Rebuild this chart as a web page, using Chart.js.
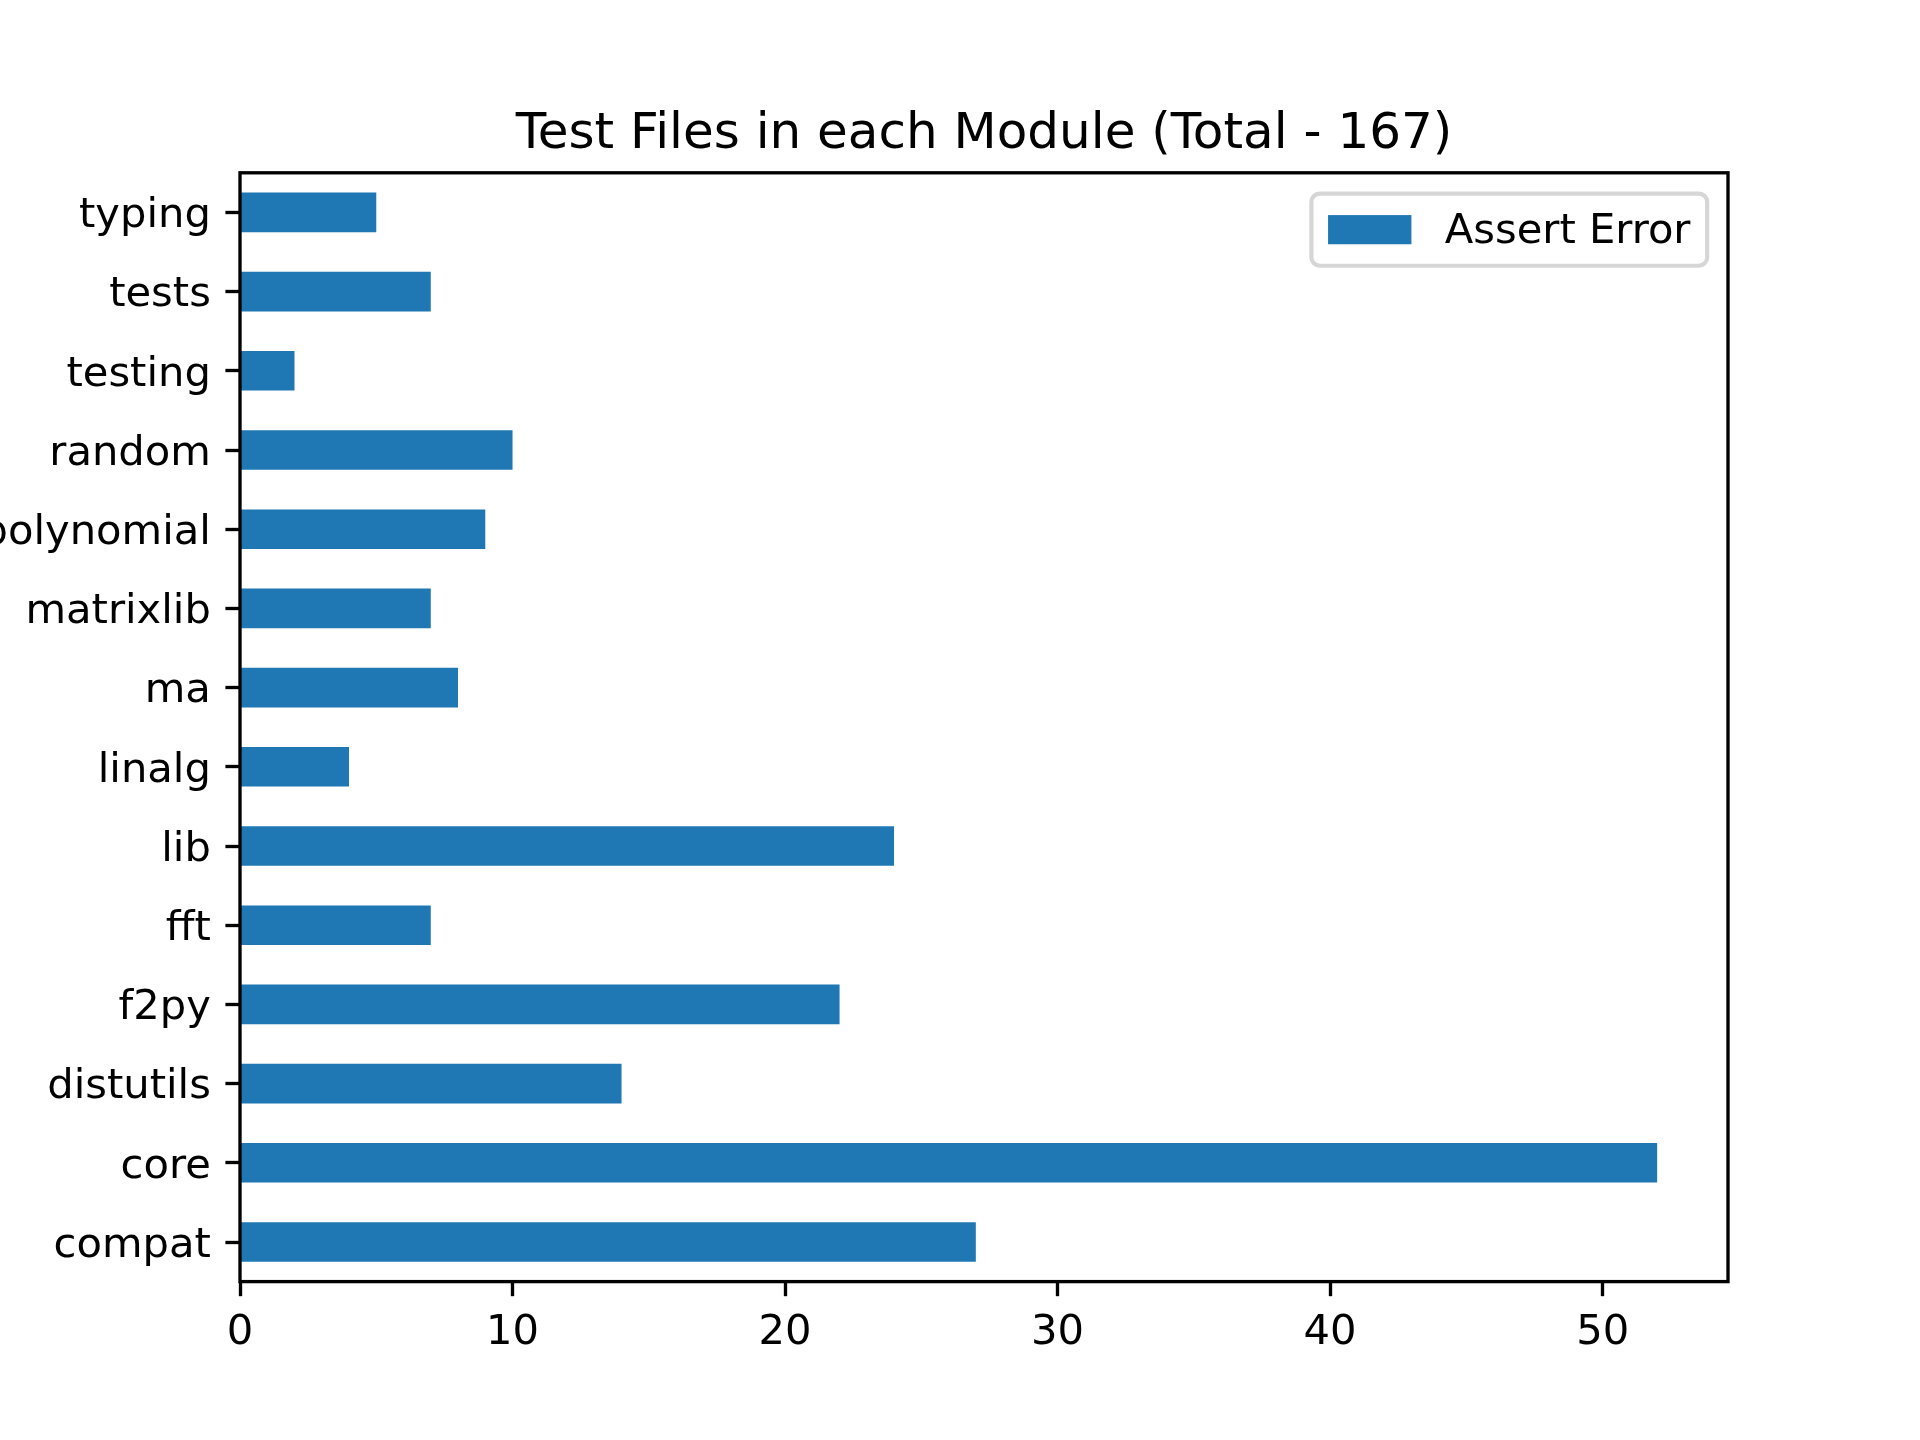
<!DOCTYPE html>
<html>
<head>
<meta charset="utf-8">
<style>
  html, body { margin: 0; padding: 0; background: #ffffff; }
  #wrap { width: 1920px; height: 1440px; }
</style>
<script src="https://cdn.jsdelivr.net/npm/chart.js@4/dist/chart.umd.min.js"></script>
</head>
<body>
<div id="wrap"><canvas id="c" width="1920" height="1440"></canvas></div>
<script>
const categories = ["typing", "tests", "testing", "random", "polynomial", "matrixlib", "ma", "linalg", "lib", "fft", "f2py", "distutils", "core", "compat"];
const assertErrorValues = [5, 7, 2, 10, 9, 7, 8, 4, 24, 7, 22, 14, 52, 27];
const xTicks = [0, 10, 20, 30, 40, 50];
const seriesLabel = "Assert Error";
const titleText = "Test Files in each Module (Total - 167)";

const PT = 300 / 72;
const FONT = "'DejaVu Sans', sans-serif";
const barColor = "#1f77b4";

const bgPlugin = {
  id: "bg",
  beforeDraw(chart) {
    const ctx = chart.ctx;
    ctx.save();
    ctx.fillStyle = "#ffffff";
    ctx.fillRect(0, 0, chart.width, chart.height);
    ctx.restore();
  }
};

const framePlugin = {
  id: "frame",
  afterDraw(chart) {
    const a = chart.chartArea;
    const ctx = chart.ctx;
    ctx.save();
    // title, centred over the axes
    ctx.fillStyle = "#000000";
    ctx.font = (12 * PT) + "px " + FONT;
    ctx.textAlign = "center";
    ctx.textBaseline = "alphabetic";
    ctx.fillText(titleText, (a.left + a.right) / 2, a.top - 6 * PT);

    // spines
    ctx.strokeStyle = "#000000";
    ctx.lineWidth = 0.8 * PT;
    ctx.strokeRect(a.left, a.top, a.right - a.left, a.bottom - a.top);

    // legend (upper right, matplotlib style)
    const fs = 10 * PT;
    ctx.font = fs + "px " + FONT;
    const tw = ctx.measureText(seriesLabel).width;
    const pad = 0.4 * fs, hl = 2.0 * fs, hh = 0.7 * fs, htp = 0.8 * fs, bap = 0.5 * fs;
    const textH = 0.93 * fs;
    const w = pad * 2 + hl + htp + tw;
    const h = pad * 2 + textH;
    const x = a.right - bap - w;
    const y = a.top + bap;
    const r = 0.2 * fs;
    ctx.beginPath();
    ctx.moveTo(x + r, y);
    ctx.lineTo(x + w - r, y);
    ctx.arcTo(x + w, y, x + w, y + r, r);
    ctx.lineTo(x + w, y + h - r);
    ctx.arcTo(x + w, y + h, x + w - r, y + h, r);
    ctx.lineTo(x + r, y + h);
    ctx.arcTo(x, y + h, x, y + h - r, r);
    ctx.lineTo(x, y + r);
    ctx.arcTo(x, y, x + r, y, r);
    ctx.closePath();
    ctx.fillStyle = "rgba(255,255,255,0.8)";
    ctx.fill();
    ctx.strokeStyle = "rgba(204,204,204,0.8)";
    ctx.lineWidth = 1.0 * PT;
    ctx.stroke();

    const cy = y + h / 2;
    ctx.fillStyle = barColor;
    ctx.fillRect(x + pad, cy - hh / 2, hl, hh);
    ctx.fillStyle = "#000000";
    ctx.textBaseline = "middle";
    ctx.textAlign = "left";
    ctx.fillText(seriesLabel, x + pad + hl + htp, cy + 2);
    ctx.restore();
  }
};

new Chart(document.getElementById("c"), {
  type: "bar",
  data: {
    labels: categories,
    datasets: [{
      label: seriesLabel,
      data: assertErrorValues,
      backgroundColor: barColor,
      borderWidth: 0,
      barPercentage: 0.5,
      categoryPercentage: 1.0
    }]
  },
  options: {
    indexAxis: "y",
    responsive: false,
    maintainAspectRatio: false,
    devicePixelRatio: 1,
    animation: false,
    layout: { padding: { left: 0, right: 192, top: 172.8, bottom: 0 } },
    plugins: {
      legend: { display: false },
      tooltip: { enabled: false },
      title: { display: false }
    },
    scales: {
      x: {
        type: "linear",
        min: 0,
        max: 54.6,
        afterBuildTicks(scale) {
          scale.ticks = xTicks.map(v => ({ value: v }));
        },
        afterFit(scale) { scale.height = 1440 - 1281.6; },
        border: { display: false },
        grid: {
          display: true,
          drawOnChartArea: false,
          drawTicks: true,
          tickLength: 3.5 * PT,
          tickWidth: 0.8 * PT,
          tickColor: "#000000"
        },
        ticks: {
          color: "#000000",
          font: { family: FONT, size: 10 * PT },
          padding: 3.5 * PT - 3,
          maxRotation: 0,
          autoSkip: false
        }
      },
      y: {
        type: "category",
        offset: true,
        afterFit(scale) { scale.width = 240; },
        border: { display: false },
        grid: {
          display: true,
          offset: false,
          drawOnChartArea: false,
          drawTicks: true,
          tickLength: 3.5 * PT,
          tickWidth: 0.8 * PT,
          tickColor: "#000000"
        },
        ticks: {
          color: "#000000",
          font: { family: FONT, size: 10 * PT },
          padding: 3.5 * PT,
          labelOffset: 4,
          autoSkip: false
        }
      }
    }
  },
  plugins: [bgPlugin, framePlugin]
});
</script>
</body>
</html>
